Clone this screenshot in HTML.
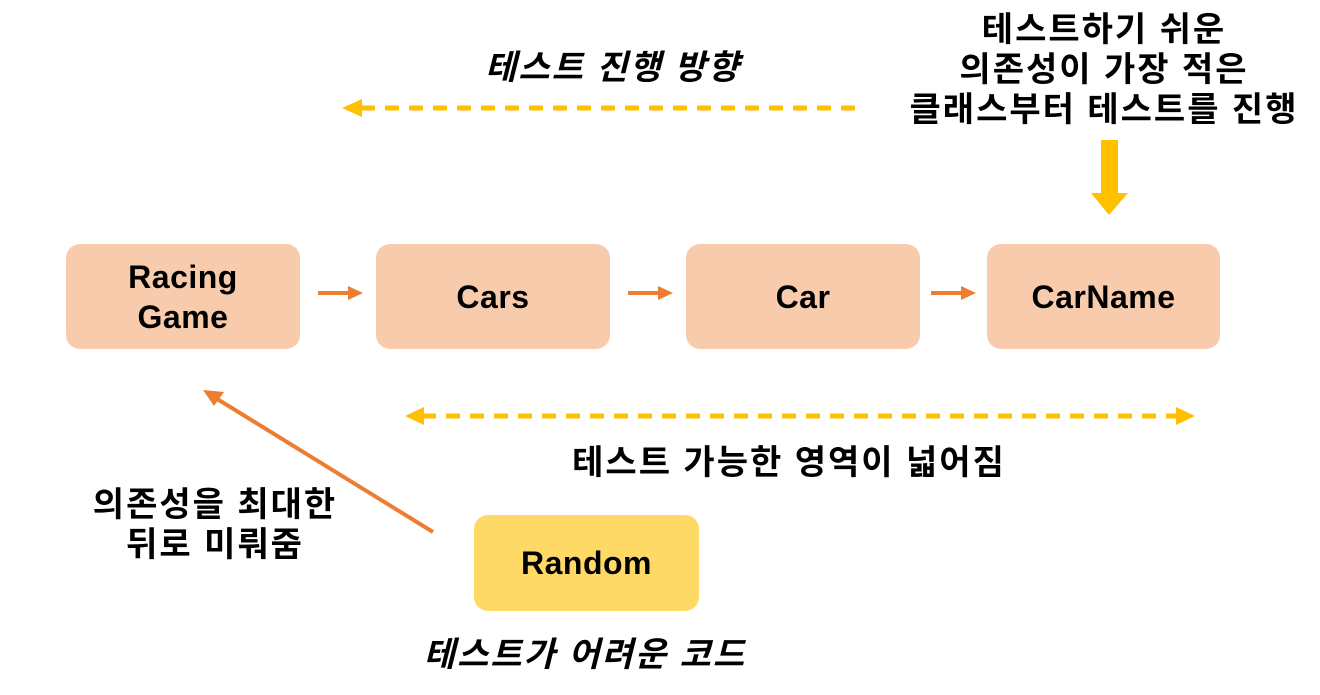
<!DOCTYPE html>
<html><head><meta charset="utf-8"><style>
body{margin:0;width:1320px;height:695px;background:#fff;position:relative;overflow:hidden;font-family:"Liberation Sans","Noto Sans CJK KR",sans-serif;}
.b{position:absolute;background:#f8cbad;border-radius:14px;display:flex;align-items:center;justify-content:center;text-align:center;font-weight:bold;font-size:32px;letter-spacing:0.5px;color:#000;line-height:40px;}
.t{position:absolute;font-weight:bold;font-size:34px;letter-spacing:2px;color:#000;text-align:center;white-space:nowrap;line-height:40px;transform:translateX(-50%);}
.i{font-style:italic;}
</style></head><body>
<div class="b" style="left:66px;top:244px;width:234px;height:105px">Racing<br>Game</div>
<div class="b" style="left:376px;top:244px;width:234px;height:105px">Cars</div>
<div class="b" style="left:686px;top:244px;width:234px;height:105px">Car</div>
<div class="b" style="left:987px;top:244px;width:233px;height:105px">CarName</div>
<div class="b" style="left:474px;top:515px;width:225px;height:96px;background:#ffd966">Random</div>

<div class="t i" style="left:613px;top:48px;">테스트 진행 방향</div>
<div class="t" style="left:1104px;top:10px;">테스트하기 쉬운<br>의존성이 가장 적은<br>클래스부터 테스트를 진행</div>
<div class="t" style="left:789px;top:443px;">테스트 가능한 영역이 넓어짐</div>
<div class="t" style="left:215px;top:485px;">의존성을 최대한<br>뒤로 미뤄줌</div>
<div class="t i" style="left:585px;top:635px;">테스트가 어려운 코드</div>

<svg width="1320" height="695" style="position:absolute;left:0;top:0">
<g fill="#ed7d31" stroke="#ed7d31">
<line x1="318" y1="293" x2="350" y2="293" stroke-width="4"/><polygon points="348,286 363,293 348,300" stroke="none"/>
<line x1="628" y1="293" x2="660" y2="293" stroke-width="4"/><polygon points="658,286 673,293 658,300" stroke="none"/>
<line x1="931" y1="293" x2="963" y2="293" stroke-width="4"/><polygon points="961,286 976,293 961,300" stroke="none"/>
<line x1="433" y1="532" x2="214" y2="397" stroke-width="4"/><polygon points="203,390 224,392 214,406" stroke="none"/>
</g>
<g fill="#ffc000" stroke="#ffc000">
<line x1="855" y1="108" x2="360" y2="108" stroke-width="5" stroke-dasharray="14,10"/>
<polygon points="342,108 362,99 362,117" stroke="none"/>
<line x1="422" y1="416" x2="1178" y2="416" stroke-width="5" stroke-dasharray="14,10"/>
<polygon points="405,416 424,407 424,425" stroke="none"/>
<polygon points="1195,416 1176,407 1176,425" stroke="none"/>
<rect x="1101" y="140" width="17" height="54" stroke="none"/>
<polygon points="1091,193 1128,193 1109,215" stroke="none"/>
</g>
</svg>
</body></html>
